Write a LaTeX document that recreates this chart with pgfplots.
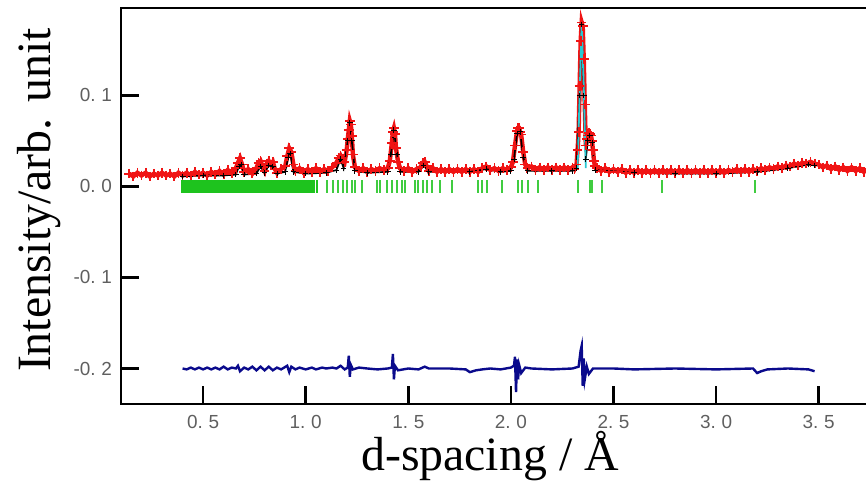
\documentclass[border=0pt]{standalone}
\usepackage{fontspec}
\setmainfont{Liberation Serif}
\newfontfamily\tickfont{Liberation Sans}
\usepackage{pgfplots}
\pgfplotsset{compat=1.18}
\usetikzlibrary{calc}
\definecolor{ObsRed}{RGB}{240,20,20}
\definecolor{RefGreen}{RGB}{30,195,30}
\definecolor{DiffBlue}{RGB}{10,10,140}
\definecolor{CalcCyan}{RGB}{40,200,210}
\definecolor{TickGray}{RGB}{95,95,95}
\newcommand{\tl}[2]{#1.\hspace{0.3em}#2}

\begin{document}
\begin{tikzpicture}
\begin{axis}[
  name=ax,
  scale only axis,
  width=374.5bp, height=198bp,
  xmin=0.10, xmax=3.75,
  ymin=-0.239, ymax=0.196,
  axis line style={line width=1bp},
  tick align=inside,
  xtick pos=bottom, ytick pos=left,
  major tick length=9bp,
  tick style={line width=1.3bp, black},
  xtick={0.5,1.0,1.5,2.0,2.5,3.0,3.5},
  xticklabels={\tl{0}{5},\tl{1}{0},\tl{1}{5},\tl{2}{0},\tl{2}{5},\tl{3}{0},\tl{3}{5}},
  ytick={-0.2,-0.1,0.0,0.1},
  yticklabels={-\tl{0}{2},-\tl{0}{1},\tl{0}{0},\tl{0}{1}},
  ticklabel style={font=\tickfont\fontsize{9.5}{10}\selectfont, text=TickGray},
  xticklabel style={yshift=-2bp},
  yticklabel style={xshift=-1bp},
]
% reflection markers
\addplot[only marks, color=RefGreen, mark=|, mark size=3.3bp, mark options={line width=1.2bp}]
  coordinates {(0.40,0)(0.41,0)(0.42,0)(0.43,0)(0.44,0)(0.45,0)(0.46,0)(0.47,0)(0.48,0)(0.49,0)
  (0.50,0)(0.51,0)(0.52,0)(0.53,0)(0.54,0)(0.55,0)(0.56,0)(0.57,0)(0.58,0)(0.59,0)
  (0.60,0)(0.61,0)(0.62,0)(0.63,0)(0.64,0)(0.65,0)(0.66,0)(0.67,0)(0.68,0)(0.69,0)
  (0.70,0)(0.71,0)(0.72,0)(0.73,0)(0.74,0)(0.75,0)(0.76,0)(0.77,0)(0.78,0)(0.79,0)
  (0.80,0)(0.81,0)(0.82,0)(0.83,0)(0.84,0)(0.85,0)(0.86,0)(0.87,0)(0.88,0)(0.89,0)
  (0.90,0)(0.91,0)(0.92,0)(0.93,0)(0.94,0)(0.95,0)(0.96,0)(0.97,0)(0.98,0)(0.99,0)
  (1.00,0)(1.01,0)(1.02,0)(1.03,0)(1.04,0)(1.054,0)};
\addplot[only marks, color=RefGreen!85, mark=|, mark size=3.3bp, mark options={line width=1bp}]
  coordinates {(1.102,0)(1.135,0)(1.159,0)(1.183,0)(1.200,0)(1.224,0)(1.240,0)(1.273,0)
  (1.346,0)(1.362,0)(1.394,0)(1.419,0)(1.443,0)(1.468,0)(1.484,0)(1.532,0)(1.549,0)
  (1.573,0)(1.589,0)(1.614,0)(1.654,0)(1.711,0)(1.841,0)(1.857,0)(1.882,0)(1.955,0)
  (2.036,0)(2.052,0)(2.084,0)(2.133,0)(2.328,0)(2.385,0)(2.393,0)(2.442,0)(2.734,0)(3.188,0)};
% observed
\addplot[color=ObsRed, line width=2.2bp, mark=+, mark size=2.4bp, mark options={line width=0.9bp}]
  coordinates {(0.14,0.014)(0.16,0.011)(0.18,0.015)(0.20,0.012)(0.22,0.015)(0.24,0.011)
  (0.26,0.014)(0.28,0.012)(0.30,0.015)(0.32,0.012)(0.34,0.014)(0.36,0.011)(0.38,0.015)
  (0.40,0.012)(0.42,0.015)(0.44,0.012)(0.46,0.016)(0.48,0.013)(0.50,0.015)(0.52,0.012)
  (0.54,0.016)(0.56,0.013)(0.58,0.017)(0.60,0.013)(0.62,0.018)(0.64,0.014)(0.66,0.020)
  (0.67,0.026)(0.68,0.031)(0.69,0.024)(0.70,0.016)(0.72,0.019)(0.74,0.014)(0.76,0.020)
  (0.77,0.026)(0.78,0.028)(0.79,0.022)(0.80,0.017)(0.81,0.025)(0.82,0.028)(0.83,0.024)
  (0.84,0.027)(0.85,0.019)(0.86,0.015)(0.88,0.019)(0.90,0.022)(0.91,0.033)(0.92,0.042)
  (0.93,0.038)(0.94,0.024)(0.95,0.017)(0.97,0.020)(0.99,0.015)(1.01,0.019)(1.03,0.016)
  (1.05,0.020)(1.07,0.016)(1.09,0.019)(1.11,0.017)(1.13,0.021)(1.15,0.026)(1.16,0.031)
  (1.17,0.034)(1.18,0.030)(1.19,0.027)(1.20,0.040)(1.205,0.052)(1.21,0.062)(1.215,0.072)
  (1.22,0.068)(1.225,0.055)(1.23,0.035)(1.24,0.021)(1.26,0.017)(1.28,0.020)(1.30,0.016)
  (1.32,0.019)(1.34,0.017)(1.36,0.020)(1.38,0.018)(1.40,0.020)(1.41,0.028)(1.42,0.048)
  (1.425,0.060)(1.43,0.064)(1.435,0.058)(1.44,0.042)(1.45,0.027)(1.46,0.020)(1.48,0.017)
  (1.50,0.020)(1.52,0.016)(1.54,0.019)(1.56,0.021)(1.57,0.026)(1.58,0.027)(1.59,0.022)
  (1.60,0.017)(1.62,0.020)(1.64,0.016)(1.66,0.019)(1.68,0.016)(1.70,0.019)(1.72,0.016)
  (1.74,0.019)(1.76,0.016)(1.78,0.019)(1.80,0.016)(1.82,0.019)(1.84,0.016)(1.86,0.020)
  (1.88,0.022)(1.90,0.018)(1.92,0.020)(1.94,0.017)(1.96,0.020)(1.98,0.018)(2.00,0.021)
  (2.01,0.027)(2.02,0.045)(2.03,0.061)(2.035,0.064)(2.04,0.064)(2.045,0.060)(2.05,0.057)
  (2.06,0.038)(2.07,0.024)(2.08,0.020)(2.10,0.022)(2.12,0.018)(2.14,0.021)(2.16,0.018)
  (2.18,0.021)(2.20,0.018)(2.22,0.021)(2.24,0.018)(2.26,0.021)(2.28,0.018)(2.30,0.021)
  (2.31,0.019)(2.32,0.024)(2.325,0.040)(2.33,0.060)(2.335,0.110)(2.34,0.160)(2.345,0.180)
  (2.35,0.176)(2.355,0.140)(2.36,0.090)(2.365,0.045)(2.37,0.052)(2.375,0.056)(2.38,0.059)
  (2.385,0.058)(2.39,0.056)(2.395,0.050)(2.40,0.040)(2.405,0.028)(2.41,0.022)(2.42,0.020)
  (2.44,0.017)(2.46,0.020)(2.48,0.016)(2.50,0.019)(2.52,0.016)(2.54,0.019)(2.56,0.015)
  (2.58,0.018)(2.60,0.015)(2.62,0.018)(2.64,0.015)(2.66,0.018)(2.68,0.015)(2.70,0.018)
  (2.72,0.015)(2.74,0.018)(2.76,0.015)(2.78,0.018)(2.80,0.015)(2.82,0.018)(2.84,0.015)
  (2.86,0.018)(2.88,0.015)(2.90,0.018)(2.92,0.015)(2.94,0.018)(2.96,0.015)(2.98,0.018)
  (3.00,0.015)(3.02,0.018)(3.04,0.015)(3.06,0.018)(3.08,0.016)(3.10,0.019)(3.12,0.016)
  (3.14,0.019)(3.16,0.016)(3.18,0.019)(3.20,0.017)(3.22,0.020)(3.24,0.018)(3.26,0.021)
  (3.28,0.019)(3.30,0.022)(3.32,0.020)(3.34,0.023)(3.36,0.022)(3.38,0.025)(3.40,0.023)
  (3.42,0.026)(3.44,0.025)(3.46,0.027)(3.48,0.025)(3.50,0.024)(3.52,0.021)(3.54,0.023)
  (3.56,0.019)(3.58,0.022)(3.60,0.018)(3.62,0.021)(3.64,0.017)(3.66,0.021)(3.68,0.017)
  (3.70,0.020)(3.72,0.016)(3.74,0.019)};
% calculated
\addplot[color=black, line width=0.8bp, mark=+, mark size=1.4bp, mark options={line width=0.45bp}]
  coordinates {(0.40,0.011)(0.50,0.012)(0.60,0.012)(0.66,0.013)(0.675,0.022)(0.685,0.024)
  (0.70,0.013)(0.76,0.014)(0.78,0.022)(0.80,0.015)(0.82,0.023)(0.84,0.022)(0.86,0.014)
  (0.90,0.016)(0.915,0.032)(0.925,0.036)(0.94,0.016)(1.00,0.014)(1.10,0.015)(1.15,0.018)
  (1.17,0.030)(1.185,0.020)(1.205,0.050)(1.215,0.070)(1.225,0.050)(1.24,0.017)(1.30,0.015)
  (1.40,0.016)(1.415,0.035)(1.43,0.062)(1.445,0.035)(1.46,0.016)(1.55,0.016)(1.575,0.023)
  (1.60,0.016)(1.80,0.016)(1.88,0.019)(1.95,0.016)(2.00,0.017)(2.015,0.030)(2.03,0.058)
  (2.045,0.060)(2.06,0.032)(2.08,0.017)(2.20,0.017)(2.30,0.017)(2.32,0.020)(2.335,0.100)
  (2.345,0.178)(2.355,0.100)(2.365,0.030)(2.375,0.050)(2.385,0.056)(2.395,0.048)
  (2.41,0.018)(2.60,0.015)(2.80,0.014)(3.00,0.014)(3.20,0.016)(3.35,0.020)(3.45,0.024)(3.48,0.023)};
% second phase
\addplot[color=CalcCyan, line width=0.9bp]
  coordinates {(2.325,0.020)(2.335,0.100)(2.345,0.180)(2.355,0.110)(2.365,0.020)};
% difference
\addplot[color=DiffBlue, line width=1.2bp]
  coordinates {(0.40,-0.200)(0.42,-0.201)(0.44,-0.199)(0.46,-0.201)(0.48,-0.199)(0.50,-0.201)
  (0.52,-0.199)(0.54,-0.201)(0.56,-0.199)(0.58,-0.201)(0.60,-0.198)(0.62,-0.201)(0.64,-0.199)
  (0.66,-0.200)(0.67,-0.197)(0.68,-0.203)(0.70,-0.199)(0.72,-0.201)(0.74,-0.198)(0.76,-0.202)
  (0.78,-0.198)(0.80,-0.202)(0.82,-0.198)(0.84,-0.202)(0.86,-0.199)(0.88,-0.201)(0.91,-0.197)
  (0.92,-0.204)(0.93,-0.198)(0.95,-0.201)(0.97,-0.199)(1.00,-0.201)(1.03,-0.199)(1.05,-0.201)
  (1.08,-0.199)(1.10,-0.200)(1.13,-0.199)(1.15,-0.200)(1.17,-0.197)(1.19,-0.201)(1.205,-0.199)
  (1.21,-0.186)(1.215,-0.209)(1.22,-0.196)(1.23,-0.201)(1.26,-0.199)(1.30,-0.200)(1.35,-0.201)
  (1.40,-0.200)(1.42,-0.199)(1.425,-0.184)(1.43,-0.212)(1.435,-0.197)(1.45,-0.202)(1.50,-0.200)
  (1.55,-0.201)(1.58,-0.198)(1.60,-0.200)(1.70,-0.200)(1.78,-0.201)(1.80,-0.204)(1.83,-0.202)
  (1.86,-0.201)(1.90,-0.200)(1.95,-0.201)(2.00,-0.199)(2.015,-0.197)(2.02,-0.187)(2.025,-0.226)
  (2.03,-0.190)(2.035,-0.212)(2.04,-0.196)(2.05,-0.205)(2.07,-0.199)(2.10,-0.200)(2.20,-0.201)
  (2.30,-0.200)(2.33,-0.198)(2.34,-0.180)(2.345,-0.175)(2.35,-0.219)(2.355,-0.189)(2.36,-0.212)
  (2.37,-0.198)(2.38,-0.206)(2.40,-0.200)(2.50,-0.200)(2.60,-0.201)(2.80,-0.200)(3.00,-0.201)
  (3.18,-0.200)(3.20,-0.205)(3.22,-0.203)(3.25,-0.201)(3.35,-0.200)(3.45,-0.201)(3.48,-0.203)};
\end{axis}
\node[anchor=base, font=\fontsize{24}{24}\selectfont] at ($(ax.south west)+(184.5bp,-33bp)$) {d-spacing / Å};
\node[anchor=base, rotate=90, font=\fontsize{24}{24}\selectfont] at ($(ax.west)+(-35.5bp,3bp)$) {Intensity/arb. unit};
\pgfresetboundingbox
\path[use as bounding box] ($(ax.south west)+(-60.5bp,-40bp)$) rectangle ($(ax.north west)+(372.5bp,4bp)$);
\end{tikzpicture}
\end{document}
